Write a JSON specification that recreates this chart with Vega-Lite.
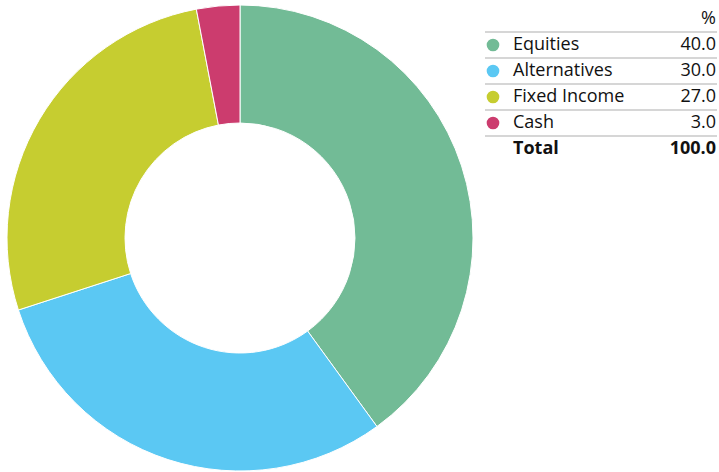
{
  "$schema": "https://vega.github.io/schema/vega-lite/v6.json",
  "padding": 0,
  "background": "white",
  "config": {
    "view": {"stroke": null},
    "concat": {"spacing": 0},
    "text": {"font": "Open Sans", "fontSize": 18, "fill": "#111111"}
  },
  "datasets": {
    "alloc": [
      {"asset": "Equities", "pct": 40.0, "ord": 1},
      {"asset": "Alternatives", "pct": 30.0, "ord": 2},
      {"asset": "Fixed Income", "pct": 27.0, "ord": 3},
      {"asset": "Cash", "pct": 3.0, "ord": 4}
    ],
    "total": [{"asset": "Total", "pct": 100.0}],
    "header": [{"asset": "%", "text": "%"}]
  },
  "hconcat": [
    {
      "width": 480,
      "height": 476,
      "data": {"name": "alloc"},
      "mark": {"type": "arc", "outerRadius": 233, "innerRadius": 115, "stroke": "#ffffff", "strokeWidth": 1},
      "encoding": {
        "theta": {"field": "pct", "type": "quantitative", "stack": true},
        "order": {"field": "ord", "type": "quantitative"},
        "color": {
          "field": "asset", "type": "nominal", "legend": null,
          "scale": {"domain": ["Equities", "Alternatives", "Fixed Income", "Cash"], "range": ["#72BB96", "#5BC8F3", "#C6CD30", "#CC3C6E"]}
        }
      }
    },
    {
      "width": 239,
      "height": 476,
      "layer": [
        {
          "data": {"name": "alloc"},
          "mark": {"type": "rule", "color": "#d6d6d6", "strokeWidth": 2, "yOffset": -13, "x": 5, "x2": 237},
          "encoding": {
            "y": {"field": "asset", "type": "ordinal", "axis": null,
                  "scale": {"type": "point", "domain": ["%", "Equities", "Alternatives", "Fixed Income", "Cash", "Total"], "range": [19, 149], "padding": 0}}
          }
        },
        {
          "data": {"name": "total"},
          "mark": {"type": "rule", "color": "#d6d6d6", "strokeWidth": 2, "yOffset": -13, "x": 5, "x2": 237},
          "encoding": {
            "y": {"field": "asset", "type": "ordinal"}
          }
        },
        {
          "data": {"name": "alloc"},
          "mark": {"type": "point", "filled": true, "opacity": 1, "size": 160, "x": 13},
          "encoding": {
            "y": {"field": "asset", "type": "ordinal"},
            "fill": {
              "field": "asset", "type": "nominal", "legend": null,
              "scale": {"domain": ["Equities", "Alternatives", "Fixed Income", "Cash"], "range": ["#72BB96", "#5BC8F3", "#C6CD30", "#CC3C6E"]}
            }
          }
        },
        {
          "data": {"name": "alloc"},
          "mark": {"type": "text", "align": "left", "x": 33},
          "encoding": {
            "y": {"field": "asset", "type": "ordinal"},
            "text": {"field": "asset"}
          }
        },
        {
          "data": {"name": "alloc"},
          "mark": {"type": "text", "align": "right", "x": 236},
          "encoding": {
            "y": {"field": "asset", "type": "ordinal"},
            "text": {"field": "pct", "type": "quantitative", "format": ".1f"}
          }
        },
        {
          "data": {"name": "total"},
          "mark": {"type": "text", "align": "left", "fontWeight": "bold", "x": 33},
          "encoding": {
            "y": {"field": "asset", "type": "ordinal"},
            "text": {"field": "asset"}
          }
        },
        {
          "data": {"name": "total"},
          "mark": {"type": "text", "align": "right", "fontWeight": "bold", "x": 236},
          "encoding": {
            "y": {"field": "asset", "type": "ordinal"},
            "text": {"field": "pct", "type": "quantitative", "format": ".1f"}
          }
        },
        {
          "data": {"name": "header"},
          "mark": {"type": "text", "align": "right", "x": 236},
          "encoding": {
            "y": {"field": "asset", "type": "ordinal"},
            "text": {"field": "text"}
          }
        }
      ]
    }
  ]
}
